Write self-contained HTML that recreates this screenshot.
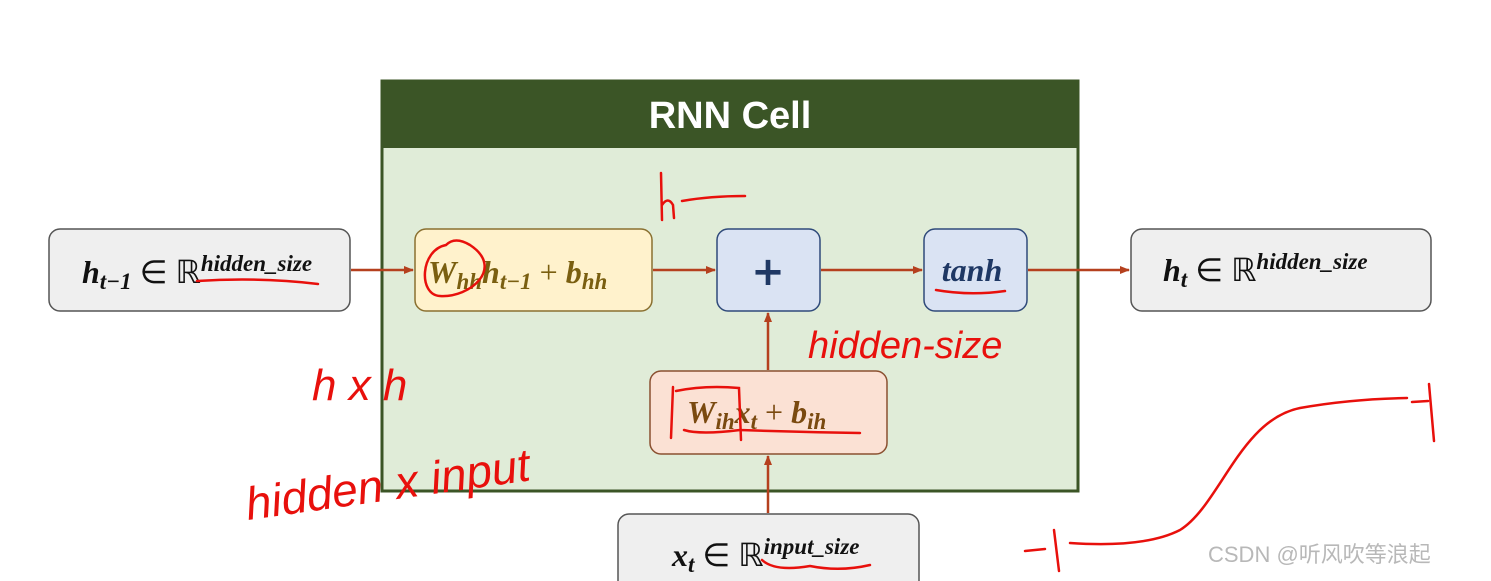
<!DOCTYPE html>
<html><head><meta charset="utf-8"><style>
html,body{margin:0;padding:0;background:#fff;width:1491px;height:581px;overflow:hidden}
svg{display:block}
.m{font-family:"Liberation Serif",serif;font-style:italic;font-weight:bold}
.r{font-family:"Liberation Serif",serif}
.hw{font-family:"Liberation Sans",sans-serif;fill:#e8100c;font-style:italic}
</style></head><body>
<svg width="1491" height="581" viewBox="0 0 1491 581" xmlns="http://www.w3.org/2000/svg">
<defs><marker id="a" markerWidth="10" markerHeight="10" refX="9" refY="5" orient="auto" markerUnits="userSpaceOnUse"><path d="M0,1 L10,5 L0,9 z" fill="#b5401e"/></marker></defs>
<rect x="382" y="81" width="696" height="410" fill="#e0ecd8" stroke="#3b5526" stroke-width="3"/>
<rect x="382" y="81" width="696" height="67" fill="#3b5526"/>
<text x="730" y="128" text-anchor="middle" font-family="Liberation Sans, sans-serif" font-weight="bold" font-size="38" fill="#fff">RNN Cell</text>
<rect x="49" y="229" width="301" height="82" rx="11" fill="#efefef" stroke="#555" stroke-width="1.5"/>
<rect x="415" y="229" width="237" height="82" rx="11" fill="#fff2cc" stroke="#8a7030" stroke-width="1.5"/>
<rect x="717" y="229" width="103" height="82" rx="11" fill="#dae3f3" stroke="#2f4a7a" stroke-width="1.5"/>
<rect x="924" y="229" width="103" height="82" rx="11" fill="#dae3f3" stroke="#2f4a7a" stroke-width="1.5"/>
<rect x="1131" y="229" width="300" height="82" rx="11" fill="#efefef" stroke="#555" stroke-width="1.5"/>
<rect x="650" y="371" width="237" height="83" rx="11" fill="#fbe1d4" stroke="#8a5030" stroke-width="1.5"/>
<rect x="618" y="514" width="301" height="90" rx="11" fill="#efefef" stroke="#555" stroke-width="1.5"/>
<g stroke="#b5401e" stroke-width="2.5" fill="none" marker-end="url(#a)">
<line x1="351" y1="270" x2="413" y2="270"/>
<line x1="653" y1="270" x2="715" y2="270"/>
<line x1="821" y1="270" x2="922" y2="270"/>
<line x1="1028" y1="270" x2="1129" y2="270"/>
<line x1="768" y1="370" x2="768" y2="313"/>
<line x1="768" y1="513" x2="768" y2="456"/>
</g>
<text x="82" y="283" font-size="32" fill="#111"><tspan class="m">h</tspan><tspan class="m" font-size="23" dy="6">t−1</tspan><tspan class="r" dy="-6"> ∈ ℝ</tspan><tspan class="m" font-size="23" dy="-12">hidden_size</tspan></text>
<text x="428" y="283" font-size="32" fill="#7a5f10"><tspan class="m">W</tspan><tspan class="m" font-size="23" dy="6">hh</tspan><tspan class="m" dy="-6">h</tspan><tspan class="m" font-size="23" dy="6">t−1</tspan><tspan class="r" dy="-6"> + </tspan><tspan class="m">b</tspan><tspan class="m" font-size="23" dy="6">hh</tspan></text>
<text x="768" y="285" text-anchor="middle" font-family="DejaVu Sans, sans-serif" font-weight="bold" font-size="40" fill="#1f3864">+</text>
<text x="972" y="281" text-anchor="middle" class="m" font-size="32" fill="#1f3864">tanh</text>
<text x="1163" y="281" font-size="32" fill="#111"><tspan class="m">h</tspan><tspan class="m" font-size="23" dy="6">t</tspan><tspan class="r" dy="-6"> ∈ ℝ</tspan><tspan class="m" font-size="23" dy="-12">hidden_size</tspan></text>
<text x="687" y="423" font-size="32" fill="#7a4a10"><tspan class="m">W</tspan><tspan class="m" font-size="23" dy="6">ih</tspan><tspan class="m" dy="-6">x</tspan><tspan class="m" font-size="23" dy="6">t</tspan><tspan class="r" dy="-6"> + </tspan><tspan class="m">b</tspan><tspan class="m" font-size="23" dy="6">ih</tspan></text>
<text x="672" y="566" font-size="32" fill="#111"><tspan class="m">x</tspan><tspan class="m" font-size="23" dy="6">t</tspan><tspan class="r" dy="-6"> ∈ ℝ</tspan><tspan class="m" font-size="23" dy="-12">input_size</tspan></text>
<g stroke="#e8100c" stroke-width="2.5" fill="none" stroke-linecap="round">
<path d="M197,281 Q260,277 318,284"/>
<path d="M446,245 C420,250 418,295 440,296 C470,298 505,268 470,245 Q455,236 446,245"/>
<path d="M673,387 L671,438 M676,391 Q705,385 739,388 L741,440 M684,430 Q700,435 740,430 Q800,432 860,433"/>
<path d="M936,290 Q970,296 1005,291"/>
<path d="M762,560 Q775,572 810,566 Q840,572 870,565"/>
<path d="M661,173 L662,220 M662,205 Q668,196 673,205 L674,218 M682,201 Q710,196 745,196"/>
<path d="M1025,551 L1045,549 M1054,530 L1059,571 M1070,543 Q1145,548 1180,530 C1220,505 1240,420 1300,408 Q1350,399 1407,398 M1412,402 L1428,401 M1429,384 L1434,441"/>
</g>
<text class="hw" x="312" y="400" font-size="44">h x h</text>
<text class="hw" x="248" y="520" font-size="46" transform="rotate(-8 248 520)">hidden x input</text>
<text class="hw" x="808" y="358" font-size="38">hidden-size</text>
<text x="1208" y="562" font-family="Liberation Sans, Noto Sans CJK SC, sans-serif" font-size="22" fill="#b8b8b8">CSDN @听风吹等浪起</text>
</svg>
</body></html>
